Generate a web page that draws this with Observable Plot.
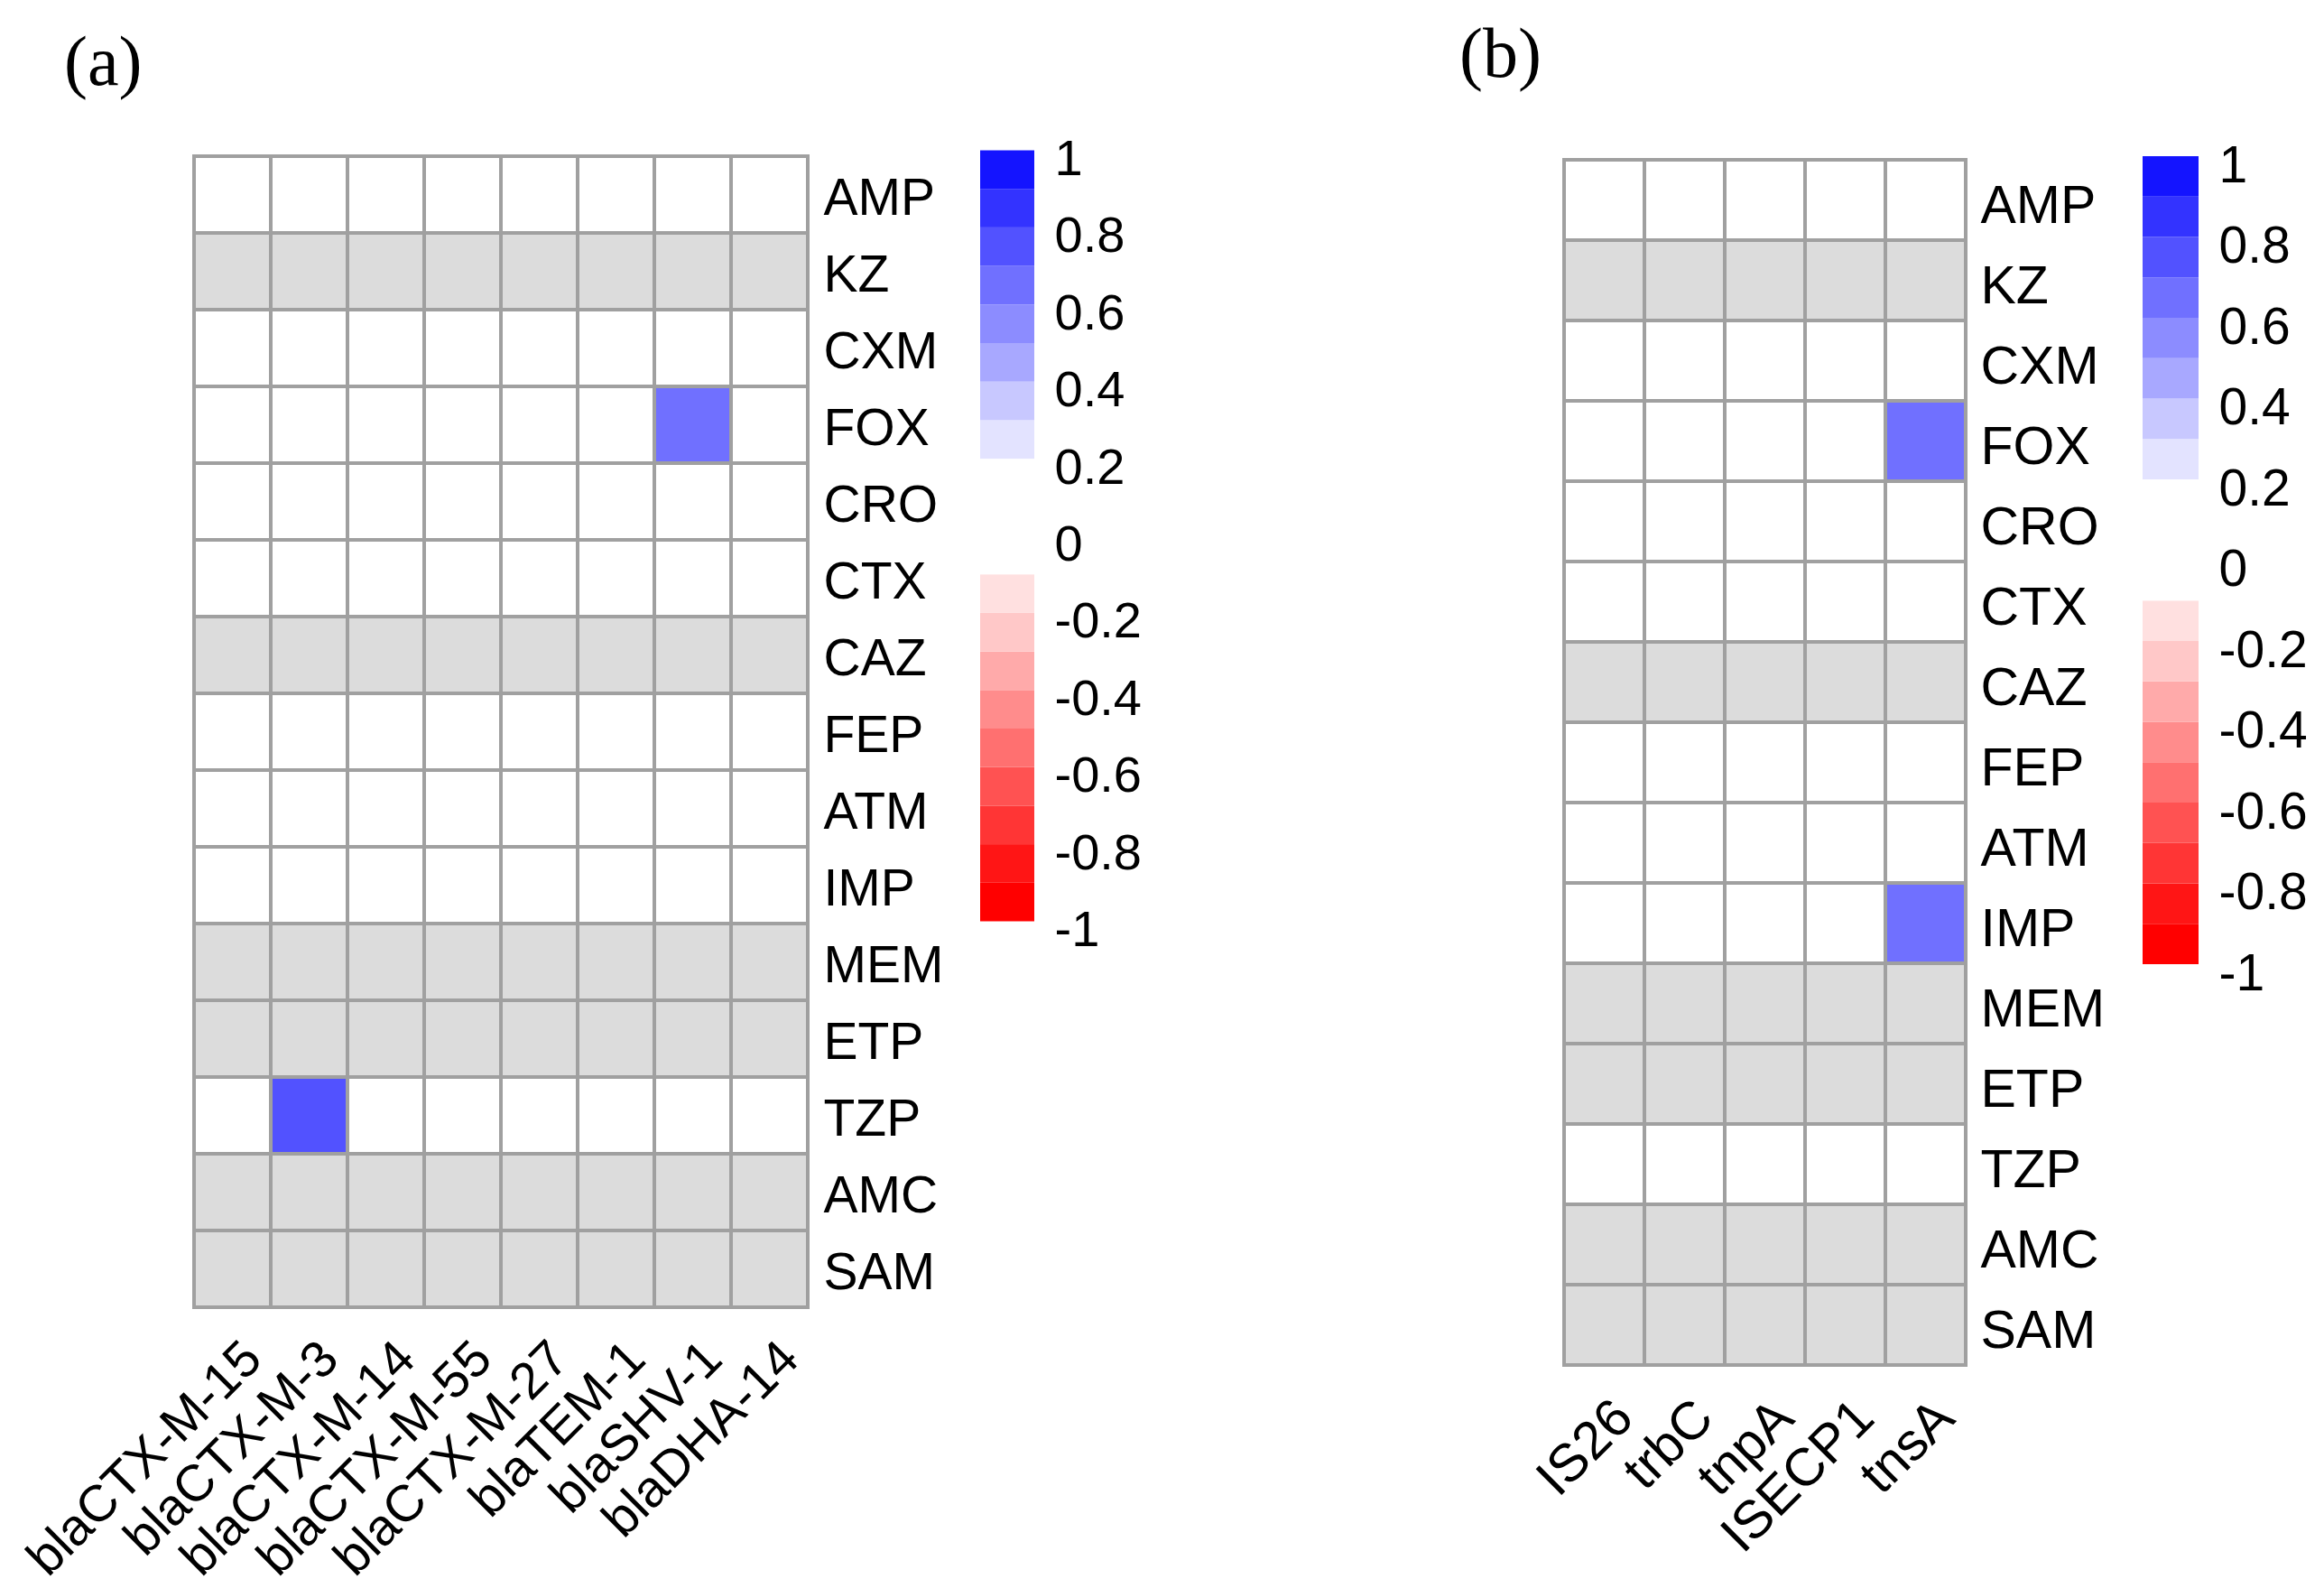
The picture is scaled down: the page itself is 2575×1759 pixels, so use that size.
<!DOCTYPE html>
<html>
<head>
<meta charset="utf-8">
<script src="https://cdn.jsdelivr.net/npm/d3@7"></script>
<script src="https://cdn.jsdelivr.net/npm/@observablehq/plot@0.6"></script>
<style>
  body { margin: 0; background: #fff; }
  #root { position: relative; width: 2575px; height: 1759px; background: #fff; overflow: hidden; }
  .panel { position: absolute; top: 0; }
  .tag { position: absolute; font-family: "Liberation Serif", "Times New Roman", serif; font-size: 78px; line-height: 78px; color: #000; white-space: nowrap; }
</style>
</head>
<body>
<div id="root"></div>
<script>
// ---------- data ----------
const drugs = ["AMP","KZ","CXM","FOX","CRO","CTX","CAZ","FEP","ATM","IMP","MEM","ETP","TZP","AMC","SAM"];

const genesA = ["blaCTX-M-15","blaCTX-M-3","blaCTX-M-14","blaCTX-M-55","blaCTX-M-27","blaTEM-1","blaSHV-1","blaDHA-14"];
const genesB = ["IS26","trbC","tnpA","ISECP1","tnsA"];

// correlation values (null = not computable, grey cell)
const corrA = [
  [0, 0, 0, 0, 0, 0, 0, 0],                          // AMP
  [null, null, null, null, null, null, null, null],  // KZ
  [0, 0, 0, 0, 0, 0, 0, 0],                          // CXM
  [0, 0, 0, 0, 0, 0, 0.65, 0],                       // FOX
  [0, 0, 0, 0, 0, 0, 0, 0],                          // CRO
  [0, 0, 0, 0, 0, 0, 0, 0],                          // CTX
  [null, null, null, null, null, null, null, null],  // CAZ
  [0, 0, 0, 0, 0, 0, 0, 0],                          // FEP
  [0, 0, 0, 0, 0, 0, 0, 0],                          // ATM
  [0, 0, 0, 0, 0, 0, 0, 0],                          // IMP
  [null, null, null, null, null, null, null, null],  // MEM
  [null, null, null, null, null, null, null, null],  // ETP
  [0, 0.75, 0, 0, 0, 0, 0, 0],                       // TZP
  [null, null, null, null, null, null, null, null],  // AMC
  [null, null, null, null, null, null, null, null]   // SAM
];

const corrB = [
  [0, 0, 0, 0, 0],                 // AMP
  [null, null, null, null, null],  // KZ
  [0, 0, 0, 0, 0],                 // CXM
  [0, 0, 0, 0, 0.65],              // FOX
  [0, 0, 0, 0, 0],                 // CRO
  [0, 0, 0, 0, 0],                 // CTX
  [null, null, null, null, null],  // CAZ
  [0, 0, 0, 0, 0],                 // FEP
  [0, 0, 0, 0, 0],                 // ATM
  [0, 0, 0, 0, 0.65],              // IMP
  [null, null, null, null, null],  // MEM
  [null, null, null, null, null],  // ETP
  [0, 0, 0, 0, 0],                 // TZP
  [null, null, null, null, null],  // AMC
  [null, null, null, null, null]   // SAM
];

const legendTicks = [1, 0.8, 0.6, 0.4, 0.2, 0, -0.2, -0.4, -0.6, -0.8, -1];
const legendTickLabels = ["1", "0.8", "0.6", "0.4", "0.2", "0", "-0.2", "-0.4", "-0.6", "-0.8", "-1"];
const legendBreaks = [-1, -0.9, -0.8, -0.7, -0.6, -0.5, -0.4, -0.3, -0.2, -0.1, 0, 0.1, 0.2, 0.3, 0.4, 0.5, 0.6, 0.7, 0.8, 0.9, 1];

// ---------- styles ----------
const thresholds = legendBreaks.slice(1, -1);
const palette = ["#FF0000","#FF1515","#FF3535","#FF5252","#FF7070","#FF8C8C","#FFAAAA","#FFC8C8","#FFE0E0",
                 "#FFFFFF","#FFFFFF","#FFFFFF",
                 "#E3E3FF","#C8C8FF","#A8A8FF","#8C8CFF","#7070FF","#5252FF","#3333FF","#1414FF"];
const NA_FILL = "#DCDCDC";
const GRID = "#A0A0A0";
const FONT = "'Liberation Sans', Arial, Helvetica, sans-serif";
const colorScale = {type: "threshold", domain: thresholds, range: palette};

function toTable(rows, cols, matrix) {
  return rows.flatMap((r, i) => cols.map((c, j) => ({row: r, col: c, value: matrix[i][j]})));
}

function heatmap(rows, cols, matrix, g) {
  const table = toTable(rows, cols, matrix);
  return Plot.plot({
    width: g.width, height: 1759,
    marginLeft: g.ml, marginRight: g.mr, marginTop: g.mt, marginBottom: g.mb,
    style: {background: "none", fontFamily: FONT, color: "#000", overflow: "visible"},
    x: {domain: cols, padding: 0, axis: null},
    y: {domain: rows, padding: 0, axis: null},
    color: colorScale,
    marks: [
      Plot.cell(table.filter(d => d.value === null), {x: "col", y: "row", fill: NA_FILL, inset: 0}),
      Plot.cell(table.filter(d => d.value !== null), {x: "col", y: "row", fill: "value", inset: 0}),
      Plot.cell(table, {x: "col", y: "row", fill: "none", stroke: GRID, strokeWidth: 4, inset: 0}),
      Plot.text(rows, {y: d => d, frameAnchor: "right", textAnchor: "start", dx: g.rowDx, dy: g.rowDy, fontSize: g.fs, fill: "#000"}),
      Plot.text(cols, {x: d => d, frameAnchor: "bottom", rotate: -45, textAnchor: "end", lineAnchor: "middle",
                       dx: g.colDx, dy: g.colDy, fontSize: g.fs, fill: "#000"})
    ]
  });
}

function legend(g) {
  const bands = legendBreaks.slice(0, -1).map((lo, i) => ({lo, hi: legendBreaks[i + 1], mid: (lo + legendBreaks[i + 1]) / 2}));
  const labels = legendTicks.map((v, i) => ({value: v, label: legendTickLabels[i]}));
  return Plot.plot({
    width: g.width, height: 1759,
    marginLeft: g.ml, marginRight: g.mr, marginTop: g.mt, marginBottom: g.mb,
    style: {background: "none", fontFamily: FONT, color: "#000", overflow: "visible"},
    y: {domain: [-1, 1], axis: null},
    color: colorScale,
    marks: [
      Plot.rect(bands, {y1: "lo", y2: "hi", fill: "mid", inset: 0}),
      Plot.text(labels, {y: "value", text: "label", frameAnchor: "right", textAnchor: "start",
                         dx: g.dx, dy: g.dy, fontSize: g.fs, fill: "#000"})
    ]
  });
}

const root = document.getElementById("root");
function place(node, left) {
  const div = document.createElement("div");
  div.className = "panel";
  div.style.left = left + "px";
  div.appendChild(node);
  root.appendChild(div);
}
function tag(text, left, top) {
  const d = document.createElement("div");
  d.className = "tag";
  d.style.left = left + "px";
  d.style.top = top + "px";
  d.textContent = text;
  root.appendChild(d);
}

// panel (a)
place(heatmap(drugs, genesA, corrA, {width: 1100, ml: 212, mr: 202, mt: 167, mb: 306, fs: 57, rowDx: 14, rowDy: 4, colDx: 22, colDy: 42}), 0);
place(legend({width: 300, ml: 86, mr: 154, mt: 166.5, mb: 738.5, fs: 56, dx: 22, dy: 9}), 1000);
// panel (b)
place(heatmap(drugs, genesB, corrB, {width: 900, ml: 231, mr: 220, mt: 175, mb: 245, fs: 59, rowDx: 14, rowDy: 6, colDx: 21, colDy: 46}), 1500);
place(legend({width: 275, ml: 74, mr: 139, mt: 173, mb: 691, fs: 57, dx: 22, dy: 10}), 2300);

tag("(a)", 71, 29);
tag("(b)", 1617, 20);
</script>
</body>
</html>
